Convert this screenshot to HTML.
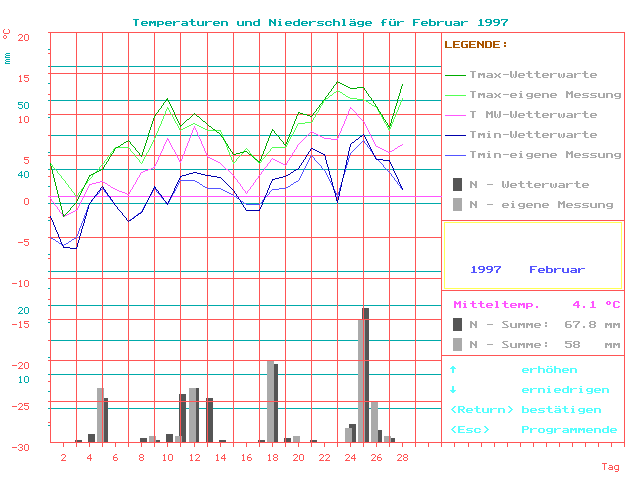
<!DOCTYPE html>
<html lang="de">
<head>
<meta charset="utf-8">
<title>Temperaturen und Niederschläge für Februar 1997</title>
<style>
html,body{margin:0;padding:0;background:#ffffff;overflow:hidden}
svg{display:block;font-family:"Liberation Mono",monospace}
.t{font-family:"Liberation Mono",monospace;font-size:13px;fill:#000;fill-opacity:0}
.u{font-family:"Liberation Mono",monospace;font-size:10px;fill:#000;fill-opacity:0}
</style>
</head>
<body>
<svg width="640" height="480" viewBox="0 0 640 480" shape-rendering="crispEdges">
<rect width="640" height="480" fill="#ffffff"/>
<defs>
<path id="a2d" d="M1 3h6v1h-6z"/>
<path id="a2e" d="M2 5h2v1h-2zM2 6h2v1h-2z"/>
<path id="a31" d="M3 0h2v1h-2zM2 1h3v1h-3zM3 2h2v1h-2zM3 3h2v1h-2zM3 4h2v1h-2zM3 5h2v1h-2zM1 6h6v1h-6z"/>
<path id="a34" d="M3 0h3v1h-3zM2 1h4v1h-4zM1 2h2v1h-2zM4 2h2v1h-2zM0 3h2v1h-2zM4 3h2v1h-2zM0 4h7v1h-7zM4 5h2v1h-2zM4 6h2v1h-2z"/>
<path id="a35" d="M0 0h7v1h-7zM0 1h2v1h-2zM0 2h6v1h-6zM5 3h2v1h-2zM5 4h2v1h-2zM0 5h2v1h-2zM5 5h2v1h-2zM1 6h5v1h-5z"/>
<path id="a36" d="M1 0h5v1h-5zM0 1h2v1h-2zM0 2h2v1h-2zM0 3h6v1h-6zM0 4h2v1h-2zM5 4h2v1h-2zM0 5h2v1h-2zM5 5h2v1h-2zM1 6h5v1h-5z"/>
<path id="a37" d="M0 0h7v1h-7zM0 1h1v1h-1zM5 1h2v1h-2zM4 2h2v1h-2zM3 3h2v1h-2zM2 4h2v1h-2zM2 5h2v1h-2zM2 6h2v1h-2z"/>
<path id="a38" d="M1 0h5v1h-5zM0 1h2v1h-2zM5 1h2v1h-2zM0 2h2v1h-2zM5 2h2v1h-2zM1 3h5v1h-5zM0 4h2v1h-2zM5 4h2v1h-2zM0 5h2v1h-2zM5 5h2v1h-2zM1 6h5v1h-5z"/>
<path id="a39" d="M1 0h5v1h-5zM0 1h2v1h-2zM5 1h2v1h-2zM0 2h2v1h-2zM5 2h2v1h-2zM1 3h6v1h-6zM5 4h2v1h-2zM4 5h2v1h-2zM1 6h4v1h-4z"/>
<path id="a3a" d="M3 1h2v1h-2zM3 2h2v1h-2zM3 4h2v1h-2zM3 5h2v1h-2z"/>
<path id="a3c" d="M4 0h2v1h-2zM3 1h2v1h-2zM2 2h2v1h-2zM1 3h2v1h-2zM2 4h2v1h-2zM3 5h2v1h-2zM4 6h2v1h-2z"/>
<path id="a3e" d="M2 0h2v1h-2zM3 1h2v1h-2zM4 2h2v1h-2zM5 3h2v1h-2zM4 4h2v1h-2zM3 5h2v1h-2zM2 6h2v1h-2z"/>
<path id="a43" d="M1 0h5v1h-5zM0 1h2v1h-2zM5 1h2v1h-2zM0 2h2v1h-2zM0 3h2v1h-2zM0 4h2v1h-2zM0 5h2v1h-2zM5 5h2v1h-2zM1 6h5v1h-5z"/>
<path id="a44" d="M0 0h6v1h-6zM0 1h2v1h-2zM5 1h2v1h-2zM0 2h2v1h-2zM5 2h2v1h-2zM0 3h2v1h-2zM5 3h2v1h-2zM0 4h2v1h-2zM5 4h2v1h-2zM0 5h2v1h-2zM5 5h2v1h-2zM0 6h6v1h-6z"/>
<path id="a45" d="M0 0h7v1h-7zM0 1h2v1h-2zM0 2h2v1h-2zM0 3h6v1h-6zM0 4h2v1h-2zM0 5h2v1h-2zM0 6h7v1h-7z"/>
<path id="a46" d="M0 0h7v1h-7zM0 1h2v1h-2zM0 2h2v1h-2zM0 3h5v1h-5zM0 4h2v1h-2zM0 5h2v1h-2zM0 6h2v1h-2z"/>
<path id="a47" d="M1 0h6v1h-6zM0 1h2v1h-2zM0 2h2v1h-2zM0 3h2v1h-2zM4 3h3v1h-3zM0 4h2v1h-2zM5 4h2v1h-2zM0 5h2v1h-2zM5 5h2v1h-2zM1 6h6v1h-6z"/>
<path id="a4c" d="M0 0h2v1h-2zM0 1h2v1h-2zM0 2h2v1h-2zM0 3h2v1h-2zM0 4h2v1h-2zM0 5h2v1h-2zM0 6h7v1h-7z"/>
<path id="a4d" d="M0 0h2v1h-2zM5 0h2v1h-2zM0 1h3v1h-3zM4 1h3v1h-3zM0 2h7v1h-7zM0 3h2v1h-2zM3 3h1v1h-1zM5 3h2v1h-2zM0 4h2v1h-2zM5 4h2v1h-2zM0 5h2v1h-2zM5 5h2v1h-2zM0 6h2v1h-2zM5 6h2v1h-2z"/>
<path id="a4e" d="M0 0h2v1h-2zM5 0h2v1h-2zM0 1h3v1h-3zM5 1h2v1h-2zM0 2h4v1h-4zM5 2h2v1h-2zM0 3h2v1h-2zM3 3h4v1h-4zM0 4h2v1h-2zM4 4h3v1h-3zM0 5h2v1h-2zM5 5h2v1h-2zM0 6h2v1h-2zM5 6h2v1h-2z"/>
<path id="a50" d="M0 0h6v1h-6zM0 1h2v1h-2zM5 1h2v1h-2zM0 2h2v1h-2zM5 2h2v1h-2zM0 3h6v1h-6zM0 4h2v1h-2zM0 5h2v1h-2zM0 6h2v1h-2z"/>
<path id="a52" d="M0 0h6v1h-6zM0 1h2v1h-2zM5 1h2v1h-2zM0 2h2v1h-2zM5 2h2v1h-2zM0 3h6v1h-6zM0 4h2v1h-2zM3 4h2v1h-2zM0 5h2v1h-2zM4 5h2v1h-2zM0 6h2v1h-2zM5 6h2v1h-2z"/>
<path id="a53" d="M1 0h5v1h-5zM0 1h2v1h-2zM1 2h2v1h-2zM2 3h3v1h-3zM4 4h2v1h-2zM5 5h2v1h-2zM0 6h6v1h-6z"/>
<path id="a54" d="M0 0h6v1h-6zM2 1h2v1h-2zM2 2h2v1h-2zM2 3h2v1h-2zM2 4h2v1h-2zM2 5h2v1h-2zM2 6h2v1h-2z"/>
<path id="a57" d="M0 0h2v1h-2zM5 0h2v1h-2zM0 1h2v1h-2zM5 1h2v1h-2zM0 2h2v1h-2zM5 2h2v1h-2zM0 3h2v1h-2zM3 3h1v1h-1zM5 3h2v1h-2zM0 4h2v1h-2zM3 4h1v1h-1zM5 4h2v1h-2zM0 5h2v1h-2zM3 5h1v1h-1zM5 5h2v1h-2zM1 6h2v1h-2zM4 6h2v1h-2z"/>
<path id="a61" d="M1 2h5v1h-5zM5 3h2v1h-2zM1 4h6v1h-6zM0 5h2v1h-2zM5 5h2v1h-2zM1 6h6v1h-6z"/>
<path id="a62" d="M0 0h2v1h-2zM0 1h2v1h-2zM0 2h6v1h-6zM0 3h2v1h-2zM5 3h2v1h-2zM0 4h2v1h-2zM5 4h2v1h-2zM0 5h2v1h-2zM5 5h2v1h-2zM0 6h6v1h-6z"/>
<path id="a63" d="M1 2h5v1h-5zM0 3h2v1h-2zM5 3h2v1h-2zM0 4h2v1h-2zM0 5h2v1h-2zM5 5h2v1h-2zM1 6h5v1h-5z"/>
<path id="a64" d="M5 0h2v1h-2zM5 1h2v1h-2zM1 2h6v1h-6zM0 3h2v1h-2zM5 3h2v1h-2zM0 4h2v1h-2zM5 4h2v1h-2zM0 5h2v1h-2zM5 5h2v1h-2zM1 6h6v1h-6z"/>
<path id="a65" d="M1 2h5v1h-5zM0 3h2v1h-2zM5 3h2v1h-2zM0 4h7v1h-7zM0 5h2v1h-2zM1 6h5v1h-5z"/>
<path id="a66" d="M2 0h4v1h-4zM1 1h2v1h-2zM1 2h2v1h-2zM0 3h5v1h-5zM1 4h2v1h-2zM1 5h2v1h-2zM1 6h2v1h-2z"/>
<path id="a67" d="M1 2h6v1h-6zM0 3h2v1h-2zM5 3h2v1h-2zM0 4h2v1h-2zM5 4h2v1h-2zM1 5h6v1h-6zM5 6h2v1h-2zM1 7h5v1h-5z"/>
<path id="a68" d="M0 0h2v1h-2zM0 1h2v1h-2zM0 2h6v1h-6zM0 3h2v1h-2zM5 3h2v1h-2zM0 4h2v1h-2zM5 4h2v1h-2zM0 5h2v1h-2zM5 5h2v1h-2zM0 6h2v1h-2zM5 6h2v1h-2z"/>
<path id="a69" d="M2 0h2v1h-2zM1 2h3v1h-3zM2 3h2v1h-2zM2 4h2v1h-2zM2 5h2v1h-2zM1 6h4v1h-4z"/>
<path id="a6c" d="M1 0h3v1h-3zM2 1h2v1h-2zM2 2h2v1h-2zM2 3h2v1h-2zM2 4h2v1h-2zM2 5h2v1h-2zM1 6h4v1h-4z"/>
<path id="a6d" d="M0 2h3v1h-3zM4 2h3v1h-3zM0 3h7v1h-7zM0 4h2v1h-2zM3 4h1v1h-1zM5 4h2v1h-2zM0 5h2v1h-2zM5 5h2v1h-2zM0 6h2v1h-2zM5 6h2v1h-2z"/>
<path id="a6e" d="M0 2h6v1h-6zM0 3h2v1h-2zM5 3h2v1h-2zM0 4h2v1h-2zM5 4h2v1h-2zM0 5h2v1h-2zM5 5h2v1h-2zM0 6h2v1h-2zM5 6h2v1h-2z"/>
<path id="a6f" d="M1 2h5v1h-5zM0 3h2v1h-2zM5 3h2v1h-2zM0 4h2v1h-2zM5 4h2v1h-2zM0 5h2v1h-2zM5 5h2v1h-2zM1 6h5v1h-5z"/>
<path id="a70" d="M0 2h6v1h-6zM0 3h2v1h-2zM5 3h2v1h-2zM0 4h2v1h-2zM5 4h2v1h-2zM0 5h6v1h-6zM0 6h2v1h-2zM0 7h2v1h-2z"/>
<path id="a72" d="M0 2h2v1h-2zM3 2h4v1h-4zM0 3h3v1h-3zM0 4h2v1h-2zM0 5h2v1h-2zM0 6h2v1h-2z"/>
<path id="a73" d="M1 2h6v1h-6zM0 3h2v1h-2zM1 4h5v1h-5zM5 5h2v1h-2zM0 6h6v1h-6z"/>
<path id="a74" d="M2 0h2v1h-2zM2 1h2v1h-2zM0 2h6v1h-6zM2 3h2v1h-2zM2 4h2v1h-2zM2 5h2v1h-2zM3 6h4v1h-4z"/>
<path id="a75" d="M0 2h2v1h-2zM5 2h2v1h-2zM0 3h2v1h-2zM5 3h2v1h-2zM0 4h2v1h-2zM5 4h2v1h-2zM0 5h2v1h-2zM5 5h2v1h-2zM1 6h6v1h-6z"/>
<path id="a77" d="M0 2h2v1h-2zM5 2h2v1h-2zM0 3h2v1h-2zM3 3h1v1h-1zM5 3h2v1h-2zM0 4h2v1h-2zM3 4h1v1h-1zM5 4h2v1h-2zM0 5h2v1h-2zM3 5h1v1h-1zM5 5h2v1h-2zM1 6h2v1h-2zM4 6h2v1h-2z"/>
<path id="a78" d="M0 2h2v1h-2zM5 2h2v1h-2zM1 3h2v1h-2zM4 3h2v1h-2zM2 4h3v1h-3zM1 5h2v1h-2zM4 5h2v1h-2zM0 6h2v1h-2zM5 6h2v1h-2z"/>
<path id="ab0" d="M2 0h3v1h-3zM1 1h2v1h-2zM4 1h2v1h-2zM1 2h2v1h-2zM4 2h2v1h-2zM2 3h3v1h-3z"/>
<path id="ae4" d="M1 0h2v1h-2zM4 0h2v1h-2zM1 2h5v1h-5zM5 3h2v1h-2zM1 4h6v1h-6zM0 5h2v1h-2zM5 5h2v1h-2zM1 6h6v1h-6z"/>
<path id="af6" d="M1 0h2v1h-2zM4 0h2v1h-2zM1 2h5v1h-5zM0 3h2v1h-2zM5 3h2v1h-2zM0 4h2v1h-2zM5 4h2v1h-2zM0 5h2v1h-2zM5 5h2v1h-2zM1 6h5v1h-5z"/>
<path id="afc" d="M1 0h2v1h-2zM4 0h2v1h-2zM0 2h2v1h-2zM5 2h2v1h-2zM0 3h2v1h-2zM5 3h2v1h-2zM0 4h2v1h-2zM5 4h2v1h-2zM0 5h2v1h-2zM5 5h2v1h-2zM1 6h6v1h-6z"/>
<path id="a2191" d="M2 0h2v1h-2zM1 1h4v1h-4zM0 2h6v1h-6zM2 3h2v1h-2zM2 4h2v1h-2zM2 5h2v1h-2zM2 6h2v1h-2z"/>
<path id="a2193" d="M2 0h2v1h-2zM2 1h2v1h-2zM2 2h2v1h-2zM2 3h2v1h-2zM0 4h6v1h-6zM1 5h4v1h-4zM2 6h2v1h-2z"/>
<path id="b2d" d="M0 3h5v1h-5z"/>
<path id="b30" d="M1 0h3v1h-3zM0 1h1v1h-1zM4 1h1v1h-1zM0 2h1v1h-1zM4 2h1v1h-1zM0 3h1v1h-1zM4 3h1v1h-1zM0 4h1v1h-1zM4 4h1v1h-1zM0 5h1v1h-1zM4 5h1v1h-1zM1 6h3v1h-3z"/>
<path id="b31" d="M2 0h1v1h-1zM1 1h2v1h-2zM2 2h1v1h-1zM2 3h1v1h-1zM2 4h1v1h-1zM2 5h1v1h-1zM1 6h3v1h-3z"/>
<path id="b32" d="M1 0h3v1h-3zM0 1h1v1h-1zM4 1h1v1h-1zM4 2h1v1h-1zM3 3h1v1h-1zM2 4h1v1h-1zM1 5h1v1h-1zM0 6h5v1h-5z"/>
<path id="b33" d="M1 0h3v1h-3zM0 1h1v1h-1zM4 1h1v1h-1zM4 2h1v1h-1zM2 3h2v1h-2zM4 4h1v1h-1zM0 5h1v1h-1zM4 5h1v1h-1zM1 6h3v1h-3z"/>
<path id="b34" d="M3 0h1v1h-1zM2 1h2v1h-2zM1 2h1v1h-1zM3 2h1v1h-1zM0 3h1v1h-1zM3 3h1v1h-1zM0 4h5v1h-5zM3 5h1v1h-1zM3 6h1v1h-1z"/>
<path id="b35" d="M0 0h5v1h-5zM0 1h1v1h-1zM0 2h4v1h-4zM4 3h1v1h-1zM4 4h1v1h-1zM0 5h1v1h-1zM4 5h1v1h-1zM1 6h3v1h-3z"/>
<path id="b36" d="M2 0h2v1h-2zM1 1h1v1h-1zM0 2h1v1h-1zM0 3h4v1h-4zM0 4h1v1h-1zM4 4h1v1h-1zM0 5h1v1h-1zM4 5h1v1h-1zM1 6h3v1h-3z"/>
<path id="b38" d="M1 0h3v1h-3zM0 1h1v1h-1zM4 1h1v1h-1zM0 2h1v1h-1zM4 2h1v1h-1zM1 3h3v1h-3zM0 4h1v1h-1zM4 4h1v1h-1zM0 5h1v1h-1zM4 5h1v1h-1zM1 6h3v1h-3z"/>
<path id="b54" d="M0 0h5v1h-5zM2 1h1v1h-1zM2 2h1v1h-1zM2 3h1v1h-1zM2 4h1v1h-1zM2 5h1v1h-1zM2 6h1v1h-1z"/>
<path id="b61" d="M1 2h3v1h-3zM4 3h1v1h-1zM1 4h4v1h-4zM0 5h1v1h-1zM4 5h1v1h-1zM1 6h4v1h-4z"/>
<path id="b67" d="M1 2h4v1h-4zM0 3h1v1h-1zM4 3h1v1h-1zM0 4h1v1h-1zM4 4h1v1h-1zM0 5h1v1h-1zM4 5h1v1h-1zM1 6h4v1h-4zM4 7h1v1h-1zM1 8h3v1h-3z"/>
</defs>
<g id="mm-grid">
<rect x="48" y="408" width="394" height="1" fill="#00aaaa"/>
<rect x="48" y="374" width="394" height="1" fill="#00aaaa"/>
<rect x="48" y="340" width="394" height="1" fill="#00aaaa"/>
<rect x="48" y="305" width="394" height="1" fill="#00aaaa"/>
<rect x="48" y="271" width="394" height="1" fill="#00aaaa"/>
<rect x="48" y="237" width="394" height="1" fill="#00aaaa"/>
<rect x="48" y="203" width="394" height="1" fill="#00aaaa"/>
<rect x="48" y="169" width="394" height="1" fill="#00aaaa"/>
<rect x="48" y="135" width="394" height="1" fill="#00aaaa"/>
<rect x="48" y="100" width="394" height="1" fill="#00aaaa"/>
<rect x="48" y="66" width="394" height="1" fill="#00aaaa"/>
<rect x="48" y="425" width="2" height="1" fill="#00aaaa"/>
<rect x="48" y="391" width="2" height="1" fill="#00aaaa"/>
<rect x="48" y="357" width="2" height="1" fill="#00aaaa"/>
<rect x="48" y="322" width="2" height="1" fill="#00aaaa"/>
<rect x="48" y="288" width="2" height="1" fill="#00aaaa"/>
<rect x="48" y="254" width="2" height="1" fill="#00aaaa"/>
<rect x="48" y="220" width="2" height="1" fill="#00aaaa"/>
<rect x="48" y="186" width="2" height="1" fill="#00aaaa"/>
<rect x="48" y="152" width="2" height="1" fill="#00aaaa"/>
<rect x="48" y="117" width="2" height="1" fill="#00aaaa"/>
<rect x="48" y="83" width="2" height="1" fill="#00aaaa"/>
<rect x="48" y="49" width="2" height="1" fill="#00aaaa"/>
</g>
<g id="bars">
<rect x="75" y="440" width="7" height="2" fill="#555555"/>
<rect x="88" y="434" width="7" height="8" fill="#555555"/>
<rect x="101" y="398" width="7" height="44" fill="#555555"/>
<rect x="140" y="438" width="7" height="4" fill="#555555"/>
<rect x="153" y="440" width="7" height="2" fill="#555555"/>
<rect x="166" y="434" width="7" height="8" fill="#555555"/>
<rect x="179" y="394" width="7" height="48" fill="#555555"/>
<rect x="192" y="388" width="7" height="54" fill="#555555"/>
<rect x="206" y="398" width="7" height="44" fill="#555555"/>
<rect x="219" y="440" width="7" height="2" fill="#555555"/>
<rect x="258" y="440" width="7" height="2" fill="#555555"/>
<rect x="271" y="364" width="7" height="78" fill="#555555"/>
<rect x="284" y="438" width="7" height="4" fill="#555555"/>
<rect x="310" y="440" width="7" height="2" fill="#555555"/>
<rect x="349" y="424" width="7" height="18" fill="#555555"/>
<rect x="362" y="308" width="7" height="134" fill="#555555"/>
<rect x="375" y="430" width="7" height="12" fill="#555555"/>
<rect x="388" y="438" width="7" height="4" fill="#555555"/>
<rect x="97" y="388" width="7" height="54" fill="#aaaaaa"/>
<rect x="149" y="436" width="7" height="6" fill="#aaaaaa"/>
<rect x="175" y="436" width="7" height="6" fill="#aaaaaa"/>
<rect x="189" y="388" width="7" height="54" fill="#aaaaaa"/>
<rect x="267" y="361" width="7" height="81" fill="#aaaaaa"/>
<rect x="293" y="436" width="7" height="6" fill="#aaaaaa"/>
<rect x="345" y="428" width="7" height="14" fill="#aaaaaa"/>
<rect x="358" y="320" width="7" height="122" fill="#aaaaaa"/>
<rect x="371" y="402" width="7" height="40" fill="#aaaaaa"/>
<rect x="384" y="436" width="7" height="6" fill="#aaaaaa"/>
</g>
<g id="grid">
<rect x="48" y="32" width="394" height="1" fill="#ff5555"/>
<rect x="48" y="73" width="394" height="1" fill="#ff5555"/>
<rect x="48" y="114" width="394" height="1" fill="#ff5555"/>
<rect x="48" y="155" width="394" height="1" fill="#ff5555"/>
<rect x="48" y="237" width="394" height="1" fill="#ff5555"/>
<rect x="48" y="278" width="394" height="1" fill="#ff5555"/>
<rect x="48" y="319" width="394" height="1" fill="#ff5555"/>
<rect x="48" y="360" width="394" height="1" fill="#ff5555"/>
<rect x="48" y="401" width="394" height="1" fill="#ff5555"/>
<rect x="50" y="442" width="392" height="1" fill="#ff5555"/>
<rect x="48" y="32" width="2" height="1" fill="#ff5555"/>
<rect x="48" y="53" width="2" height="1" fill="#ff5555"/>
<rect x="48" y="73" width="2" height="1" fill="#ff5555"/>
<rect x="48" y="94" width="2" height="1" fill="#ff5555"/>
<rect x="48" y="114" width="2" height="1" fill="#ff5555"/>
<rect x="48" y="135" width="2" height="1" fill="#ff5555"/>
<rect x="48" y="155" width="2" height="1" fill="#ff5555"/>
<rect x="48" y="176" width="2" height="1" fill="#ff5555"/>
<rect x="48" y="217" width="2" height="1" fill="#ff5555"/>
<rect x="48" y="237" width="2" height="1" fill="#ff5555"/>
<rect x="48" y="258" width="2" height="1" fill="#ff5555"/>
<rect x="48" y="278" width="2" height="1" fill="#ff5555"/>
<rect x="48" y="299" width="2" height="1" fill="#ff5555"/>
<rect x="48" y="319" width="2" height="1" fill="#ff5555"/>
<rect x="48" y="340" width="2" height="1" fill="#ff5555"/>
<rect x="48" y="360" width="2" height="1" fill="#ff5555"/>
<rect x="48" y="381" width="2" height="1" fill="#ff5555"/>
<rect x="48" y="401" width="2" height="1" fill="#ff5555"/>
<rect x="48" y="422" width="2" height="1" fill="#ff5555"/>
<rect x="50" y="32" width="1" height="411" fill="#ff5555"/>
<rect x="76" y="32" width="1" height="415" fill="#ff5555"/>
<rect x="102" y="32" width="1" height="415" fill="#ff5555"/>
<rect x="128" y="32" width="1" height="415" fill="#ff5555"/>
<rect x="154" y="32" width="1" height="415" fill="#ff5555"/>
<rect x="180" y="32" width="1" height="415" fill="#ff5555"/>
<rect x="207" y="32" width="1" height="415" fill="#ff5555"/>
<rect x="233" y="32" width="1" height="415" fill="#ff5555"/>
<rect x="259" y="32" width="1" height="415" fill="#ff5555"/>
<rect x="285" y="32" width="1" height="415" fill="#ff5555"/>
<rect x="311" y="32" width="1" height="415" fill="#ff5555"/>
<rect x="337" y="32" width="1" height="415" fill="#ff5555"/>
<rect x="363" y="32" width="1" height="415" fill="#ff5555"/>
<rect x="389" y="32" width="1" height="415" fill="#ff5555"/>
<rect x="415" y="32" width="1" height="415" fill="#ff5555"/>
<rect x="441" y="32" width="1" height="415" fill="#ff5555"/>
<rect x="50" y="442" width="575" height="1" fill="#ff5555"/>
<rect x="63" y="442" width="1" height="5" fill="#ff5555"/>
<rect x="76" y="442" width="1" height="5" fill="#ff5555"/>
<rect x="89" y="442" width="1" height="5" fill="#ff5555"/>
<rect x="102" y="442" width="1" height="5" fill="#ff5555"/>
<rect x="115" y="442" width="1" height="5" fill="#ff5555"/>
<rect x="128" y="442" width="1" height="5" fill="#ff5555"/>
<rect x="141" y="442" width="1" height="5" fill="#ff5555"/>
<rect x="154" y="442" width="1" height="5" fill="#ff5555"/>
<rect x="167" y="442" width="1" height="5" fill="#ff5555"/>
<rect x="180" y="442" width="1" height="5" fill="#ff5555"/>
<rect x="194" y="442" width="1" height="5" fill="#ff5555"/>
<rect x="207" y="442" width="1" height="5" fill="#ff5555"/>
<rect x="220" y="442" width="1" height="5" fill="#ff5555"/>
<rect x="233" y="442" width="1" height="5" fill="#ff5555"/>
<rect x="246" y="442" width="1" height="5" fill="#ff5555"/>
<rect x="259" y="442" width="1" height="5" fill="#ff5555"/>
<rect x="272" y="442" width="1" height="5" fill="#ff5555"/>
<rect x="285" y="442" width="1" height="5" fill="#ff5555"/>
<rect x="298" y="442" width="1" height="5" fill="#ff5555"/>
<rect x="311" y="442" width="1" height="5" fill="#ff5555"/>
<rect x="324" y="442" width="1" height="5" fill="#ff5555"/>
<rect x="337" y="442" width="1" height="5" fill="#ff5555"/>
<rect x="350" y="442" width="1" height="5" fill="#ff5555"/>
<rect x="363" y="442" width="1" height="5" fill="#ff5555"/>
<rect x="376" y="442" width="1" height="5" fill="#ff5555"/>
<rect x="389" y="442" width="1" height="5" fill="#ff5555"/>
<rect x="402" y="442" width="1" height="5" fill="#ff5555"/>
<rect x="415" y="442" width="1" height="5" fill="#ff5555"/>
<rect x="428" y="442" width="1" height="5" fill="#ff5555"/>
<rect x="441" y="442" width="1" height="5" fill="#ff5555"/>
<rect x="454" y="442" width="1" height="5" fill="#ff5555"/>
<rect x="468" y="442" width="1" height="5" fill="#ff5555"/>
<rect x="481" y="442" width="1" height="5" fill="#ff5555"/>
<rect x="494" y="442" width="1" height="5" fill="#ff5555"/>
<rect x="507" y="442" width="1" height="5" fill="#ff5555"/>
<rect x="520" y="442" width="1" height="5" fill="#ff5555"/>
<rect x="533" y="442" width="1" height="5" fill="#ff5555"/>
<rect x="546" y="442" width="1" height="5" fill="#ff5555"/>
<rect x="559" y="442" width="1" height="5" fill="#ff5555"/>
<rect x="572" y="442" width="1" height="5" fill="#ff5555"/>
<rect x="585" y="442" width="1" height="5" fill="#ff5555"/>
<rect x="598" y="442" width="1" height="5" fill="#ff5555"/>
<rect x="611" y="442" width="1" height="5" fill="#ff5555"/>
<rect x="624" y="442" width="1" height="5" fill="#ff5555"/>
</g>
<g id="panel">
<rect x="441" y="32" width="184" height="1" fill="#ff5555"/>
<rect x="624" y="32" width="1" height="411" fill="#ff5555"/>
<rect x="441" y="32" width="1" height="411" fill="#ff5555"/>
<rect x="441" y="220" width="184" height="1" fill="#ff5555"/>
<rect x="441" y="290" width="184" height="1" fill="#ff5555"/>
<rect x="441" y="355" width="184" height="1" fill="#ff5555"/>
<rect x="444.5" y="222.5" width="177" height="66" fill="none" stroke="#ffff55" stroke-width="1"/>
</g>
<rect x="48" y="196" width="394" height="1" fill="#ff55ff"/>
<g id="curves">
<path fill="#ff55ff" d="M50 198h1v1h-1zM51 199h1v2h-1zM52 201h1v1h-1zM53 202h1v1h-1zM54 203h1v2h-1zM55 205h1v1h-1zM56 206h1v1h-1zM57 207h1v2h-1zM58 209h1v1h-1zM59 210h1v2h-1zM60 212h1v1h-1zM61 213h1v1h-1zM62 214h1v2h-1zM63 216h2v1h-2zM65 215h2v1h-2zM67 214h2v1h-2zM69 213h2v1h-2zM71 212h2v1h-2zM73 211h2v1h-2zM75 210h2v1h-2zM77 208h1v2h-1zM78 206h1v2h-1zM79 204h1v2h-1zM80 202h1v2h-1zM81 200h1v2h-1zM82 198h1v2h-1zM83 196h1v2h-1zM84 194h1v2h-1zM85 192h1v2h-1zM86 190h1v2h-1zM87 188h1v2h-1zM88 186h1v2h-1zM89 184h3v1h-3zM89 185h1v1h-1zM92 183h4v1h-4zM96 182h4v1h-4zM100 181h3v1h-3zM103 182h2v1h-2zM105 183h2v1h-2zM107 184h1v1h-1zM108 185h2v1h-2zM110 186h1v1h-1zM111 187h2v1h-2zM113 188h2v1h-2zM115 189h2v1h-2zM117 190h2v1h-2zM119 191h3v1h-3zM122 192h3v1h-3zM125 193h2v1h-2zM127 194h2v1h-2zM129 192h1v2h-1zM130 190h1v2h-1zM131 189h1v1h-1zM132 187h1v2h-1zM133 185h1v2h-1zM134 184h1v1h-1zM135 182h1v2h-1zM136 180h1v2h-1zM137 178h1v2h-1zM138 177h1v1h-1zM139 175h1v2h-1zM140 173h1v2h-1zM141 172h2v1h-2zM143 171h2v1h-2zM145 170h3v1h-3zM148 169h3v1h-3zM151 168h2v1h-2zM153 167h2v1h-2zM154 166h1v1h-1zM155 164h1v2h-1zM156 162h1v2h-1zM157 160h1v2h-1zM158 157h1v3h-1zM159 155h1v2h-1zM160 153h1v2h-1zM161 151h1v2h-1zM162 149h1v2h-1zM163 146h1v3h-1zM164 144h1v2h-1zM165 142h1v2h-1zM166 140h1v2h-1zM167 138h1v2h-1zM168 139h1v2h-1zM169 141h1v2h-1zM170 143h1v2h-1zM171 145h1v2h-1zM172 147h1v2h-1zM173 149h1v1h-1zM174 150h1v2h-1zM175 152h1v2h-1zM176 154h1v2h-1zM177 156h1v2h-1zM178 158h1v2h-1zM179 160h1v2h-1zM180 161h1v2h-1zM181 159h1v2h-1zM182 156h1v3h-1zM183 154h1v2h-1zM184 151h1v3h-1zM185 148h1v3h-1zM186 146h1v2h-1zM187 143h1v3h-1zM188 141h1v2h-1zM189 138h1v3h-1zM190 136h1v2h-1zM191 133h1v3h-1zM192 130h1v3h-1zM193 128h1v2h-1zM194 126h1v2h-1zM195 128h1v2h-1zM196 130h1v2h-1zM197 132h1v3h-1zM198 135h1v2h-1zM199 137h1v2h-1zM200 139h1v2h-1zM201 141h1v3h-1zM202 144h1v2h-1zM203 146h1v2h-1zM204 148h1v3h-1zM205 151h1v2h-1zM206 153h1v2h-1zM207 155h1v2h-1zM208 157h2v1h-2zM210 158h2v1h-2zM212 159h2v1h-2zM214 160h2v1h-2zM216 161h2v1h-2zM218 162h2v1h-2zM220 163h1v1h-1zM221 164h1v1h-1zM222 165h1v1h-1zM223 166h1v1h-1zM224 167h1v1h-1zM225 168h1v1h-1zM226 169h2v1h-2zM228 170h1v1h-1zM229 171h1v1h-1zM230 172h1v1h-1zM231 173h1v1h-1zM232 174h1v1h-1zM233 175h1v1h-1zM234 176h1v2h-1zM235 178h1v1h-1zM236 179h1v1h-1zM237 180h1v2h-1zM238 182h1v1h-1zM239 183h1v1h-1zM240 184h1v2h-1zM241 186h1v1h-1zM242 187h1v2h-1zM243 189h1v1h-1zM244 190h1v1h-1zM245 191h1v2h-1zM246 193h1v1h-1zM247 191h1v2h-1zM248 190h1v1h-1zM249 189h1v1h-1zM250 187h1v2h-1zM251 186h1v1h-1zM252 185h1v1h-1zM253 183h1v2h-1zM254 182h1v1h-1zM255 180h1v2h-1zM256 179h1v1h-1zM257 178h1v1h-1zM258 176h1v2h-1zM259 175h1v1h-1zM260 174h1v1h-1zM261 172h1v2h-1zM262 171h1v1h-1zM263 170h1v1h-1zM264 168h1v2h-1zM265 167h1v1h-1zM266 166h1v1h-1zM267 164h1v2h-1zM268 163h1v1h-1zM269 162h1v1h-1zM270 160h1v2h-1zM271 159h1v1h-1zM272 158h1v1h-1zM273 159h2v1h-2zM275 160h2v1h-2zM277 161h2v1h-2zM279 162h2v1h-2zM281 163h2v1h-2zM283 164h2v1h-2zM285 165h1v1h-1zM286 163h1v2h-1zM287 161h1v2h-1zM288 160h1v1h-1zM289 158h1v2h-1zM290 157h1v1h-1zM291 155h1v2h-1zM292 153h1v2h-1zM293 152h1v1h-1zM294 150h1v2h-1zM295 149h1v1h-1zM296 147h1v2h-1zM297 145h1v2h-1zM298 144h1v1h-1zM299 143h1v1h-1zM300 142h1v1h-1zM301 141h1v1h-1zM302 140h1v1h-1zM303 139h1v1h-1zM304 138h1v1h-1zM305 137h1v1h-1zM306 136h1v1h-1zM307 135h1v1h-1zM308 134h1v1h-1zM309 133h1v1h-1zM310 132h1v1h-1zM311 131h1v1h-1zM312 132h2v1h-2zM314 133h2v1h-2zM316 134h2v1h-2zM318 135h2v1h-2zM320 136h2v1h-2zM322 137h2v1h-2zM324 138h7v1h-7zM331 139h7v1h-7zM337 138h1v1h-1zM338 136h1v2h-1zM339 133h1v3h-1zM340 131h1v2h-1zM341 128h1v3h-1zM342 126h1v2h-1zM343 124h1v2h-1zM344 121h1v3h-1zM345 119h1v2h-1zM346 116h1v3h-1zM347 114h1v2h-1zM348 111h1v3h-1zM349 109h1v2h-1zM350 107h1v2h-1zM351 108h1v1h-1zM352 109h1v1h-1zM353 110h1v1h-1zM354 111h1v1h-1zM355 112h1v1h-1zM356 113h1v1h-1zM357 114h1v2h-1zM358 116h1v1h-1zM359 117h1v1h-1zM360 118h1v1h-1zM361 119h1v1h-1zM362 120h1v1h-1zM363 121h1v1h-1zM364 122h1v2h-1zM365 124h1v2h-1zM366 126h1v2h-1zM367 128h1v2h-1zM368 130h1v2h-1zM369 132h1v2h-1zM370 134h1v2h-1zM371 136h1v2h-1zM372 138h1v2h-1zM373 140h1v2h-1zM374 142h1v2h-1zM375 144h1v2h-1zM376 146h2v1h-2zM378 147h2v1h-2zM380 148h2v1h-2zM382 149h2v1h-2zM384 150h2v1h-2zM386 151h2v1h-2zM388 152h2v1h-2zM390 151h2v1h-2zM392 150h2v1h-2zM394 149h1v1h-1zM395 148h2v1h-2zM397 147h1v1h-1zM398 146h2v1h-2zM400 145h2v1h-2zM402 144h1v1h-1z"/>
<path fill="#55ff55" d="M50 163h1v1h-1zM51 164h1v1h-1zM52 165h1v2h-1zM53 167h1v1h-1zM54 168h1v1h-1zM55 169h1v1h-1zM56 170h1v1h-1zM57 171h1v2h-1zM58 173h1v1h-1zM59 174h1v1h-1zM60 175h1v1h-1zM61 176h1v2h-1zM62 178h1v1h-1zM63 179h1v1h-1zM64 180h1v1h-1zM65 181h1v2h-1zM66 183h1v1h-1zM67 184h1v1h-1zM68 185h1v2h-1zM69 187h1v1h-1zM70 188h1v1h-1zM71 189h1v2h-1zM72 191h1v1h-1zM73 192h1v1h-1zM74 193h1v2h-1zM75 195h1v1h-1zM76 196h1v1h-1zM77 195h1v1h-1zM78 193h1v2h-1zM79 192h1v1h-1zM80 191h1v1h-1zM81 189h1v2h-1zM82 188h1v1h-1zM83 187h1v1h-1zM84 185h1v2h-1zM85 184h1v1h-1zM86 183h1v1h-1zM87 181h1v2h-1zM88 180h1v1h-1zM89 179h1v1h-1zM90 178h1v1h-1zM91 177h1v1h-1zM92 175h1v2h-1zM93 174h1v1h-1zM94 173h1v1h-1zM95 172h1v1h-1zM96 171h1v1h-1zM97 170h1v1h-1zM98 169h1v1h-1zM99 167h1v2h-1zM100 166h1v1h-1zM101 165h1v1h-1zM102 164h1v1h-1zM103 163h1v1h-1zM104 161h1v2h-1zM105 160h1v1h-1zM106 159h1v1h-1zM107 157h1v2h-1zM108 156h1v1h-1zM109 155h1v1h-1zM110 153h1v2h-1zM111 152h1v1h-1zM112 151h1v1h-1zM113 149h1v2h-1zM114 148h1v1h-1zM115 147h14v1h-14zM129 148h1v1h-1zM130 149h1v2h-1zM131 151h1v1h-1zM132 152h1v1h-1zM133 153h1v1h-1zM134 154h1v1h-1zM135 155h1v2h-1zM136 157h1v1h-1zM137 158h1v1h-1zM138 159h1v1h-1zM139 160h1v2h-1zM140 162h1v1h-1zM141 163h1v1h-1zM142 161h1v2h-1zM143 159h1v2h-1zM144 157h1v2h-1zM145 155h1v2h-1zM146 153h1v2h-1zM147 152h1v1h-1zM148 150h1v2h-1zM149 148h1v2h-1zM150 146h1v2h-1zM151 144h1v2h-1zM152 142h1v2h-1zM153 140h1v2h-1zM154 138h1v2h-1zM155 136h1v2h-1zM156 133h1v3h-1zM157 131h1v2h-1zM158 128h1v3h-1zM159 126h1v2h-1zM160 124h1v2h-1zM161 121h1v3h-1zM162 119h1v2h-1zM163 116h1v3h-1zM164 114h1v2h-1zM165 111h1v3h-1zM166 109h1v2h-1zM167 107h1v2h-1zM168 108h1v2h-1zM169 110h1v2h-1zM170 112h1v2h-1zM171 114h1v1h-1zM172 115h1v2h-1zM173 117h1v2h-1zM174 119h1v2h-1zM175 121h1v2h-1zM176 123h1v1h-1zM177 124h1v2h-1zM178 126h1v2h-1zM179 128h1v2h-1zM180 130h1v1h-1zM181 129h2v1h-2zM183 128h2v1h-2zM185 127h2v1h-2zM187 126h2v1h-2zM189 125h2v1h-2zM191 124h2v1h-2zM193 123h2v1h-2zM195 124h2v1h-2zM197 125h2v1h-2zM199 126h2v1h-2zM201 127h2v1h-2zM203 128h2v1h-2zM205 129h2v1h-2zM207 130h14v1h-14zM220 131h1v1h-1zM221 132h1v2h-1zM222 134h1v3h-1zM223 137h1v2h-1zM224 139h1v3h-1zM225 142h1v2h-1zM226 144h1v3h-1zM227 147h1v3h-1zM228 150h1v2h-1zM229 152h1v3h-1zM230 155h1v2h-1zM231 157h1v3h-1zM232 160h1v2h-1zM233 162h2v1h-2zM233 163h1v1h-1zM235 161h1v1h-1zM236 159h1v2h-1zM237 158h1v1h-1zM238 157h1v1h-1zM239 156h1v1h-1zM240 155h1v1h-1zM241 154h1v1h-1zM242 153h1v1h-1zM243 151h1v2h-1zM244 150h1v1h-1zM245 149h1v1h-1zM246 148h1v1h-1zM247 149h1v1h-1zM248 150h1v1h-1zM249 151h1v2h-1zM250 153h1v1h-1zM251 154h1v1h-1zM252 155h1v1h-1zM253 156h1v1h-1zM254 157h1v1h-1zM255 158h1v1h-1zM256 159h1v2h-1zM257 161h1v1h-1zM258 162h1v1h-1zM259 163h1v1h-1zM260 162h1v1h-1zM261 160h1v2h-1zM262 159h1v1h-1zM263 158h1v1h-1zM264 157h1v1h-1zM265 156h1v1h-1zM266 154h1v2h-1zM267 153h1v1h-1zM268 152h1v1h-1zM269 151h1v1h-1zM270 149h1v2h-1zM271 148h1v1h-1zM272 147h14v1h-14zM286 145h1v2h-1zM287 143h1v2h-1zM288 141h1v2h-1zM289 139h1v2h-1zM290 137h1v2h-1zM291 136h1v1h-1zM292 134h1v2h-1zM293 132h1v2h-1zM294 130h1v2h-1zM295 128h1v2h-1zM296 126h1v2h-1zM297 124h1v2h-1zM298 123h7v1h-7zM305 122h7v1h-7zM312 120h1v2h-1zM313 118h1v2h-1zM314 117h1v1h-1zM315 115h1v2h-1zM316 113h1v2h-1zM317 112h1v1h-1zM318 110h1v2h-1zM319 108h1v2h-1zM320 106h1v2h-1zM321 105h1v1h-1zM322 103h1v2h-1zM323 101h1v2h-1zM324 100h1v1h-1zM325 99h1v1h-1zM326 98h2v1h-2zM328 97h1v1h-1zM329 96h1v1h-1zM330 95h2v1h-2zM332 94h1v1h-1zM333 93h1v1h-1zM334 92h2v1h-2zM336 91h1v1h-1zM337 90h1v1h-1zM338 91h2v1h-2zM340 92h2v1h-2zM342 93h1v1h-1zM343 94h2v1h-2zM345 95h1v1h-1zM346 96h2v1h-2zM348 97h2v1h-2zM350 98h7v1h-7zM357 99h7v1h-7zM364 100h2v1h-2zM366 101h2v1h-2zM368 102h1v1h-1zM369 103h2v1h-2zM371 104h1v1h-1zM372 105h2v1h-2zM374 106h2v1h-2zM376 107h1v1h-1zM377 108h1v2h-1zM378 110h1v2h-1zM379 112h1v2h-1zM380 114h1v1h-1zM381 115h1v2h-1zM382 117h1v2h-1zM383 119h1v2h-1zM384 121h1v2h-1zM385 123h1v1h-1zM386 124h1v2h-1zM387 126h1v2h-1zM388 128h1v2h-1zM389 129h1v2h-1zM390 127h1v2h-1zM391 124h1v3h-1zM392 122h1v2h-1zM393 119h1v3h-1zM394 117h1v2h-1zM395 115h1v2h-1zM396 112h1v3h-1zM397 110h1v2h-1zM398 107h1v3h-1zM399 105h1v2h-1zM400 102h1v3h-1zM401 100h1v2h-1zM402 98h1v2h-1z"/>
<path fill="#00aa00" d="M50 163h1v3h-1zM51 166h1v4h-1zM52 170h1v4h-1zM53 174h1v4h-1zM54 178h1v4h-1zM55 182h1v4h-1zM56 186h1v4h-1zM57 190h1v4h-1zM58 194h1v4h-1zM59 198h1v4h-1zM60 202h1v4h-1zM61 206h1v4h-1zM62 210h1v4h-1zM63 214h1v3h-1zM64 215h1v1h-1zM65 214h1v1h-1zM66 213h1v1h-1zM67 212h1v1h-1zM68 211h1v1h-1zM69 210h1v1h-1zM70 208h1v2h-1zM71 207h1v1h-1zM72 206h1v1h-1zM73 205h1v1h-1zM74 204h1v1h-1zM75 203h1v1h-1zM76 201h1v2h-1zM77 199h1v2h-1zM78 197h1v2h-1zM79 195h1v2h-1zM80 193h1v2h-1zM81 191h1v2h-1zM82 189h1v2h-1zM83 187h1v2h-1zM84 185h1v2h-1zM85 183h1v2h-1zM86 181h1v2h-1zM87 179h1v2h-1zM88 177h1v2h-1zM89 175h2v1h-2zM89 176h1v1h-1zM91 174h2v1h-2zM93 173h2v1h-2zM95 172h2v1h-2zM97 171h2v1h-2zM99 170h2v1h-2zM101 169h2v1h-2zM103 167h1v2h-1zM104 165h1v2h-1zM105 164h1v1h-1zM106 162h1v2h-1zM107 161h1v1h-1zM108 159h1v2h-1zM109 157h1v2h-1zM110 156h1v1h-1zM111 154h1v2h-1zM112 153h1v1h-1zM113 151h1v2h-1zM114 149h1v2h-1zM115 148h1v1h-1zM116 147h2v1h-2zM118 146h2v1h-2zM120 145h1v1h-1zM121 144h2v1h-2zM123 143h1v1h-1zM124 142h2v1h-2zM126 141h2v1h-2zM128 140h1v1h-1zM129 141h1v1h-1zM130 142h1v2h-1zM131 144h1v1h-1zM132 145h1v1h-1zM133 146h1v1h-1zM134 147h1v1h-1zM135 148h1v2h-1zM136 150h1v1h-1zM137 151h1v1h-1zM138 152h1v1h-1zM139 153h1v2h-1zM140 155h2v1h-2zM141 156h1v1h-1zM142 152h1v3h-1zM143 149h1v3h-1zM144 146h1v3h-1zM145 143h1v3h-1zM146 140h1v3h-1zM147 137h1v3h-1zM148 133h1v4h-1zM149 130h1v3h-1zM150 127h1v3h-1zM151 124h1v3h-1zM152 121h1v3h-1zM153 118h1v3h-1zM154 116h1v2h-1zM155 114h1v2h-1zM156 113h1v1h-1zM157 112h1v1h-1zM158 110h1v2h-1zM159 109h1v1h-1zM160 108h1v1h-1zM161 106h1v2h-1zM162 105h1v1h-1zM163 103h1v2h-1zM164 102h1v1h-1zM165 101h1v1h-1zM166 99h2v1h-2zM166 100h1v1h-1zM167 98h1v1h-1zM168 100h1v2h-1zM169 102h1v2h-1zM170 104h1v2h-1zM171 106h1v2h-1zM172 108h1v2h-1zM173 110h1v2h-1zM174 112h1v3h-1zM175 115h1v2h-1zM176 117h1v2h-1zM177 119h1v2h-1zM178 121h1v2h-1zM179 123h1v2h-1zM180 125h2v1h-2zM180 126h1v1h-1zM182 124h1v1h-1zM183 123h1v1h-1zM184 122h1v1h-1zM185 121h1v1h-1zM186 120h1v1h-1zM187 119h2v1h-2zM189 118h1v1h-1zM190 117h1v1h-1zM191 116h1v1h-1zM192 115h1v1h-1zM193 114h1v1h-1zM194 113h1v1h-1zM195 114h1v1h-1zM196 115h1v1h-1zM197 116h2v1h-2zM199 117h1v1h-1zM200 118h1v1h-1zM201 119h1v1h-1zM202 120h1v1h-1zM203 121h2v1h-2zM205 122h1v1h-1zM206 123h1v1h-1zM207 124h1v1h-1zM208 125h1v1h-1zM209 126h2v1h-2zM211 127h1v1h-1zM212 128h1v1h-1zM213 129h2v1h-2zM215 130h1v1h-1zM216 131h1v1h-1zM217 132h2v1h-2zM219 133h1v1h-1zM220 134h1v1h-1zM221 135h1v2h-1zM222 137h1v1h-1zM223 138h1v2h-1zM224 140h1v1h-1zM225 141h1v2h-1zM226 143h1v1h-1zM227 144h1v2h-1zM228 146h1v2h-1zM229 148h1v1h-1zM230 149h1v2h-1zM231 151h1v1h-1zM232 152h1v2h-1zM233 154h3v1h-3zM236 153h4v1h-4zM240 152h4v1h-4zM244 151h3v1h-3zM247 152h1v1h-1zM248 153h1v1h-1zM249 154h2v1h-2zM251 155h1v1h-1zM252 156h1v1h-1zM253 157h1v1h-1zM254 158h1v1h-1zM255 159h2v1h-2zM257 160h1v1h-1zM258 161h2v1h-2zM259 162h1v1h-1zM260 159h1v2h-1zM261 156h1v3h-1zM262 154h1v2h-1zM263 151h1v3h-1zM264 149h1v2h-1zM265 146h1v3h-1zM266 143h1v3h-1zM267 141h1v2h-1zM268 138h1v3h-1zM269 136h1v2h-1zM270 133h1v3h-1zM271 131h1v2h-1zM272 129h1v2h-1zM273 130h1v1h-1zM274 131h1v2h-1zM275 133h1v1h-1zM276 134h1v1h-1zM277 135h1v1h-1zM278 136h1v1h-1zM279 137h1v2h-1zM280 139h1v1h-1zM281 140h1v1h-1zM282 141h1v1h-1zM283 142h1v2h-1zM284 144h2v1h-2zM285 145h1v1h-1zM286 142h1v2h-1zM287 139h1v3h-1zM288 137h1v2h-1zM289 134h1v3h-1zM290 132h1v2h-1zM291 129h1v3h-1zM292 126h1v3h-1zM293 124h1v2h-1zM294 121h1v3h-1zM295 119h1v2h-1zM296 116h1v3h-1zM297 114h1v2h-1zM298 112h2v1h-2zM298 113h1v1h-1zM300 113h3v1h-3zM303 114h4v1h-4zM307 115h3v1h-3zM310 116h2v1h-2zM312 115h1v1h-1zM313 113h1v2h-1zM314 112h1v1h-1zM315 111h1v1h-1zM316 109h1v2h-1zM317 108h1v1h-1zM318 107h1v1h-1zM319 105h1v2h-1zM320 104h1v1h-1zM321 103h1v1h-1zM322 101h1v2h-1zM323 100h1v1h-1zM324 99h1v1h-1zM325 97h1v2h-1zM326 96h1v1h-1zM327 95h1v1h-1zM328 93h1v2h-1zM329 92h1v1h-1zM330 91h1v1h-1zM331 89h1v2h-1zM332 88h1v1h-1zM333 86h1v2h-1zM334 85h1v1h-1zM335 84h1v1h-1zM336 82h1v2h-1zM337 81h1v1h-1zM338 82h2v1h-2zM340 83h2v1h-2zM342 84h2v1h-2zM344 85h2v1h-2zM346 86h2v1h-2zM348 87h2v1h-2zM350 88h7v1h-7zM357 87h7v1h-7zM364 88h1v2h-1zM365 90h1v1h-1zM366 91h1v2h-1zM367 93h1v1h-1zM368 94h1v2h-1zM369 96h1v1h-1zM370 97h1v1h-1zM371 98h1v2h-1zM372 100h1v1h-1zM373 101h1v2h-1zM374 103h1v1h-1zM375 104h1v2h-1zM376 106h1v1h-1zM377 107h1v2h-1zM378 109h1v2h-1zM379 111h1v1h-1zM380 112h1v2h-1zM381 114h1v1h-1zM382 115h1v2h-1zM383 117h1v2h-1zM384 119h1v1h-1zM385 120h1v2h-1zM386 122h1v1h-1zM387 123h1v2h-1zM388 125h1v2h-1zM389 126h1v2h-1zM390 123h1v3h-1zM391 119h1v4h-1zM392 116h1v3h-1zM393 113h1v3h-1zM394 109h1v4h-1zM395 106h1v3h-1zM396 103h1v3h-1zM397 99h1v4h-1zM398 96h1v3h-1zM399 93h1v3h-1zM400 89h1v4h-1zM401 86h1v3h-1zM402 84h1v2h-1z"/>
<path fill="#5555ff" d="M50 237h1v1h-1zM51 238h2v1h-2zM53 239h2v1h-2zM55 240h1v1h-1zM56 241h2v1h-2zM58 242h1v1h-1zM59 243h2v1h-2zM61 244h2v1h-2zM63 245h1v1h-1zM64 244h2v1h-2zM66 243h2v1h-2zM68 242h1v1h-1zM69 241h2v1h-2zM71 240h1v1h-1zM72 239h2v1h-2zM74 238h2v1h-2zM76 236h1v2h-1zM77 234h1v2h-1zM78 231h1v3h-1zM79 228h1v3h-1zM80 226h1v2h-1zM81 223h1v3h-1zM82 221h1v2h-1zM83 218h1v3h-1zM84 215h1v3h-1zM85 213h1v2h-1zM86 210h1v3h-1zM87 207h1v3h-1zM88 205h1v2h-1zM89 203h1v2h-1zM90 202h1v1h-1zM91 201h1v1h-1zM92 199h1v2h-1zM93 198h1v1h-1zM94 197h1v1h-1zM95 196h1v1h-1zM96 195h1v1h-1zM97 194h1v1h-1zM98 193h1v1h-1zM99 191h1v2h-1zM100 190h1v1h-1zM101 189h1v1h-1zM102 188h1v1h-1zM103 189h1v1h-1zM104 190h1v2h-1zM105 192h1v1h-1zM106 193h1v1h-1zM107 194h1v2h-1zM108 196h1v1h-1zM109 197h1v1h-1zM110 198h1v2h-1zM111 200h1v1h-1zM112 201h1v1h-1zM113 202h1v2h-1zM114 204h1v1h-1zM115 205h1v1h-1zM116 206h1v1h-1zM117 207h1v2h-1zM118 209h1v1h-1zM119 210h1v1h-1zM120 211h1v1h-1zM121 212h1v1h-1zM122 213h1v2h-1zM123 215h1v1h-1zM124 216h1v1h-1zM125 217h1v1h-1zM126 218h1v2h-1zM127 220h1v1h-1zM128 221h1v1h-1zM129 220h1v1h-1zM130 219h2v1h-2zM132 218h1v1h-1zM133 217h1v1h-1zM134 216h2v1h-2zM136 215h1v1h-1zM137 214h1v1h-1zM138 213h2v1h-2zM140 212h1v1h-1zM141 211h1v1h-1zM142 209h1v2h-1zM143 207h1v2h-1zM144 205h1v2h-1zM145 204h1v1h-1zM146 202h1v2h-1zM147 200h1v2h-1zM148 198h1v2h-1zM149 196h1v2h-1zM150 195h1v1h-1zM151 193h1v2h-1zM152 191h1v2h-1zM153 189h1v2h-1zM154 188h1v1h-1zM155 189h1v1h-1zM156 190h1v2h-1zM157 192h1v1h-1zM158 193h1v1h-1zM159 194h1v1h-1zM160 195h1v1h-1zM161 196h1v2h-1zM162 198h1v1h-1zM163 199h1v1h-1zM164 200h1v1h-1zM165 201h1v2h-1zM166 203h1v1h-1zM167 204h1v1h-1zM168 202h1v2h-1zM169 200h1v2h-1zM170 198h1v2h-1zM171 196h1v2h-1zM172 194h1v2h-1zM173 193h1v1h-1zM174 191h1v2h-1zM175 189h1v2h-1zM176 187h1v2h-1zM177 185h1v2h-1zM178 183h1v2h-1zM179 181h1v2h-1zM180 180h15v1h-15zM195 181h2v1h-2zM197 182h2v1h-2zM199 183h1v1h-1zM200 184h2v1h-2zM202 185h1v1h-1zM203 186h2v1h-2zM205 187h2v1h-2zM207 188h14v1h-14zM221 189h2v1h-2zM223 190h2v1h-2zM225 191h2v1h-2zM227 192h2v1h-2zM229 193h2v1h-2zM231 194h2v1h-2zM233 195h1v1h-1zM234 196h2v1h-2zM236 197h1v1h-1zM237 198h2v1h-2zM239 199h1v1h-1zM240 200h1v1h-1zM241 201h2v1h-2zM243 202h1v1h-1zM244 203h2v1h-2zM246 204h14v1h-14zM260 203h1v1h-1zM261 202h1v1h-1zM262 200h1v2h-1zM263 199h1v1h-1zM264 198h1v1h-1zM265 197h1v1h-1zM266 196h1v1h-1zM267 195h1v1h-1zM268 194h1v1h-1zM269 192h1v2h-1zM270 191h1v1h-1zM271 190h1v1h-1zM272 189h7v1h-7zM279 188h7v1h-7zM286 187h2v1h-2zM288 186h2v1h-2zM290 185h1v1h-1zM291 184h2v1h-2zM293 183h1v1h-1zM294 182h2v1h-2zM296 181h2v1h-2zM298 180h1v1h-1zM299 178h1v2h-1zM300 176h1v2h-1zM301 174h1v2h-1zM302 172h1v2h-1zM303 170h1v2h-1zM304 168h1v2h-1zM305 166h1v2h-1zM306 164h1v2h-1zM307 162h1v2h-1zM308 160h1v2h-1zM309 158h1v2h-1zM310 156h1v2h-1zM311 155h1v1h-1zM312 156h1v1h-1zM313 157h1v1h-1zM314 158h1v2h-1zM315 160h1v1h-1zM316 161h1v1h-1zM317 162h1v1h-1zM318 163h1v1h-1zM319 164h1v1h-1zM320 165h1v1h-1zM321 166h1v2h-1zM322 168h1v1h-1zM323 169h1v1h-1zM324 170h1v1h-1zM325 171h1v2h-1zM326 173h1v2h-1zM327 175h1v2h-1zM328 177h1v2h-1zM329 179h1v2h-1zM330 181h1v2h-1zM331 183h1v2h-1zM332 185h1v2h-1zM333 187h1v2h-1zM334 189h1v2h-1zM335 191h1v2h-1zM336 193h1v2h-1zM337 195h1v2h-1zM338 192h1v3h-1zM339 188h1v4h-1zM340 185h1v3h-1zM341 182h1v3h-1zM342 178h1v4h-1zM343 175h1v3h-1zM344 172h1v3h-1zM345 168h1v4h-1zM346 165h1v3h-1zM347 162h1v3h-1zM348 158h1v4h-1zM349 155h1v3h-1zM350 153h1v2h-1zM351 152h1v1h-1zM352 151h1v1h-1zM353 150h1v1h-1zM354 149h1v1h-1zM355 148h1v1h-1zM356 147h1v1h-1zM357 146h1v1h-1zM358 145h1v1h-1zM359 144h1v1h-1zM360 143h1v1h-1zM361 142h1v1h-1zM362 141h1v1h-1zM363 140h1v1h-1zM364 141h1v2h-1zM365 143h1v1h-1zM366 144h1v1h-1zM367 145h1v2h-1zM368 147h1v1h-1zM369 148h1v1h-1zM370 149h1v2h-1zM371 151h1v1h-1zM372 152h1v2h-1zM373 154h1v1h-1zM374 155h1v1h-1zM375 156h1v2h-1zM376 158h1v1h-1zM377 159h1v1h-1zM378 160h1v1h-1zM379 161h1v1h-1zM380 162h1v1h-1zM381 163h1v1h-1zM382 164h1v1h-1zM383 165h1v2h-1zM384 167h1v1h-1zM385 168h1v1h-1zM386 169h1v1h-1zM387 170h1v1h-1zM388 171h1v1h-1zM389 172h1v1h-1zM390 173h1v1h-1zM391 174h1v2h-1zM392 176h1v1h-1zM393 177h1v1h-1zM394 178h1v2h-1zM395 180h1v1h-1zM396 181h1v1h-1zM397 182h1v2h-1zM398 184h1v1h-1zM399 185h1v1h-1zM400 186h1v2h-1zM401 188h1v1h-1zM402 189h1v1h-1z"/>
<path fill="#0000aa" d="M50 216h1v2h-1zM51 218h1v2h-1zM52 220h1v2h-1zM53 222h1v3h-1zM54 225h1v2h-1zM55 227h1v3h-1zM56 230h1v2h-1zM57 232h1v2h-1zM58 234h1v3h-1zM59 237h1v2h-1zM60 239h1v3h-1zM61 242h1v2h-1zM62 244h1v2h-1zM63 246h1v2h-1zM64 247h6v1h-6zM70 248h7v1h-7zM76 247h1v1h-1zM77 243h1v4h-1zM78 240h1v3h-1zM79 236h1v4h-1zM80 233h1v3h-1zM81 229h1v4h-1zM82 226h1v3h-1zM83 223h1v3h-1zM84 219h1v4h-1zM85 216h1v3h-1zM86 212h1v4h-1zM87 209h1v3h-1zM88 205h1v4h-1zM89 203h1v2h-1zM90 202h1v1h-1zM91 200h1v2h-1zM92 199h1v1h-1zM93 198h1v1h-1zM94 196h1v2h-1zM95 195h1v1h-1zM96 194h1v1h-1zM97 192h1v2h-1zM98 191h1v1h-1zM99 190h1v1h-1zM100 188h1v2h-1zM101 187h1v1h-1zM102 186h1v1h-1zM103 187h1v2h-1zM104 189h1v1h-1zM105 190h1v2h-1zM106 192h1v1h-1zM107 193h1v2h-1zM108 195h1v1h-1zM109 196h1v1h-1zM110 197h1v2h-1zM111 199h1v1h-1zM112 200h1v2h-1zM113 202h1v1h-1zM114 203h1v2h-1zM115 205h1v1h-1zM116 206h1v1h-1zM117 207h1v2h-1zM118 209h1v1h-1zM119 210h1v1h-1zM120 211h1v1h-1zM121 212h1v1h-1zM122 213h1v2h-1zM123 215h1v1h-1zM124 216h1v1h-1zM125 217h1v1h-1zM126 218h1v2h-1zM127 220h1v1h-1zM128 221h1v1h-1zM129 220h2v1h-2zM131 219h1v1h-1zM132 218h2v1h-2zM134 217h1v1h-1zM135 216h1v1h-1zM136 215h2v1h-2zM138 214h1v1h-1zM139 213h2v1h-2zM141 212h1v1h-1zM142 210h1v2h-1zM143 208h1v2h-1zM144 206h1v2h-1zM145 204h1v2h-1zM146 202h1v2h-1zM147 200h1v2h-1zM148 198h1v2h-1zM149 196h1v2h-1zM150 194h1v2h-1zM151 192h1v2h-1zM152 190h1v2h-1zM153 188h1v2h-1zM154 186h1v2h-1zM155 187h1v2h-1zM156 189h1v1h-1zM157 190h1v1h-1zM158 191h1v2h-1zM159 193h1v1h-1zM160 194h1v1h-1zM161 195h1v2h-1zM162 197h1v1h-1zM163 198h1v2h-1zM164 200h1v1h-1zM165 201h1v1h-1zM166 202h1v2h-1zM167 203h1v2h-1zM168 201h1v2h-1zM169 199h1v2h-1zM170 197h1v2h-1zM171 195h1v2h-1zM172 193h1v2h-1zM173 191h1v2h-1zM174 188h1v3h-1zM175 186h1v2h-1zM176 184h1v2h-1zM177 182h1v2h-1zM178 180h1v2h-1zM179 178h1v2h-1zM180 176h2v1h-2zM180 177h1v1h-1zM182 175h4v1h-4zM186 174h3v1h-3zM189 173h4v1h-4zM193 172h4v1h-4zM197 173h4v1h-4zM201 174h4v1h-4zM205 175h6v1h-6zM211 176h6v1h-6zM217 177h4v1h-4zM221 178h1v1h-1zM222 179h1v1h-1zM223 180h1v1h-1zM224 181h1v1h-1zM225 182h1v1h-1zM226 183h1v1h-1zM227 184h1v1h-1zM228 185h1v1h-1zM229 186h1v1h-1zM230 187h1v1h-1zM231 188h1v1h-1zM232 189h1v1h-1zM233 190h1v1h-1zM234 191h1v2h-1zM235 193h1v1h-1zM236 194h1v2h-1zM237 196h1v1h-1zM238 197h1v2h-1zM239 199h1v1h-1zM240 200h1v2h-1zM241 202h1v2h-1zM242 204h1v1h-1zM243 205h1v2h-1zM244 207h1v1h-1zM245 208h1v2h-1zM246 210h14v1h-14zM259 209h1v1h-1zM260 207h1v2h-1zM261 205h1v2h-1zM262 202h1v3h-1zM263 200h1v2h-1zM264 197h1v3h-1zM265 195h1v2h-1zM266 193h1v2h-1zM267 190h1v3h-1zM268 188h1v2h-1zM269 185h1v3h-1zM270 183h1v2h-1zM271 181h1v2h-1zM272 179h3v1h-3zM272 180h1v1h-1zM275 178h4v1h-4zM279 177h4v1h-4zM283 176h3v1h-3zM286 175h2v1h-2zM288 174h2v1h-2zM290 173h1v1h-1zM291 172h2v1h-2zM293 171h1v1h-1zM294 170h2v1h-2zM296 169h2v1h-2zM298 168h1v1h-1zM299 166h1v2h-1zM300 165h1v1h-1zM301 163h1v2h-1zM302 162h1v1h-1zM303 160h1v2h-1zM304 159h1v1h-1zM305 157h1v2h-1zM306 155h1v2h-1zM307 154h1v1h-1zM308 152h1v2h-1zM309 151h1v1h-1zM310 149h1v2h-1zM311 148h2v1h-2zM313 149h2v1h-2zM315 150h2v1h-2zM317 151h2v1h-2zM319 152h2v1h-2zM321 153h2v1h-2zM323 154h2v1h-2zM324 155h1v1h-1zM325 156h1v4h-1zM326 160h1v4h-1zM327 164h1v3h-1zM328 167h1v4h-1zM329 171h1v4h-1zM330 175h1v3h-1zM331 178h1v4h-1zM332 182h1v4h-1zM333 186h1v4h-1zM334 190h1v3h-1zM335 193h1v4h-1zM336 197h1v4h-1zM337 200h1v3h-1zM338 196h1v4h-1zM339 191h1v5h-1zM340 187h1v4h-1zM341 182h1v5h-1zM342 178h1v4h-1zM343 174h1v4h-1zM344 169h1v5h-1zM345 165h1v4h-1zM346 160h1v5h-1zM347 156h1v4h-1zM348 151h1v5h-1zM349 147h1v4h-1zM350 144h1v3h-1zM351 143h1v1h-1zM352 142h2v1h-2zM354 141h1v1h-1zM355 140h1v1h-1zM356 139h2v1h-2zM358 138h1v1h-1zM359 137h1v1h-1zM360 136h2v1h-2zM362 135h1v1h-1zM363 134h1v1h-1zM364 135h1v2h-1zM365 137h1v2h-1zM366 139h1v2h-1zM367 141h1v2h-1zM368 143h1v2h-1zM369 145h1v2h-1zM370 147h1v2h-1zM371 149h1v2h-1zM372 151h1v2h-1zM373 153h1v2h-1zM374 155h1v2h-1zM375 157h1v2h-1zM376 159h7v1h-7zM383 160h7v1h-7zM389 161h1v1h-1zM390 162h1v2h-1zM391 164h1v2h-1zM392 166h1v2h-1zM393 168h1v3h-1zM394 171h1v2h-1zM395 173h1v2h-1zM396 175h1v2h-1zM397 177h1v2h-1zM398 179h1v3h-1zM399 182h1v2h-1zM400 184h1v2h-1zM401 186h1v2h-1zM402 188h1v2h-1z"/>
</g>
<g fill="#00aaaa"><use href="#a54" x="133" y="19"/><use href="#a65" x="141" y="19"/><use href="#a6d" x="149" y="19"/><use href="#a70" x="157" y="19"/><use href="#a65" x="165" y="19"/><use href="#a72" x="173" y="19"/><use href="#a61" x="181" y="19"/><use href="#a74" x="189" y="19"/><use href="#a75" x="197" y="19"/><use href="#a72" x="205" y="19"/><use href="#a65" x="213" y="19"/><use href="#a6e" x="221" y="19"/><use href="#a75" x="237" y="19"/><use href="#a6e" x="245" y="19"/><use href="#a64" x="253" y="19"/><use href="#a4e" x="269" y="19"/><use href="#a69" x="277" y="19"/><use href="#a65" x="285" y="19"/><use href="#a64" x="293" y="19"/><use href="#a65" x="301" y="19"/><use href="#a72" x="309" y="19"/><use href="#a73" x="317" y="19"/><use href="#a63" x="325" y="19"/><use href="#a68" x="333" y="19"/><use href="#a6c" x="341" y="19"/><use href="#ae4" x="349" y="19"/><use href="#a67" x="357" y="19"/><use href="#a65" x="365" y="19"/><use href="#a66" x="381" y="19"/><use href="#afc" x="389" y="19"/><use href="#a72" x="397" y="19"/><use href="#a46" x="413" y="19"/><use href="#a65" x="421" y="19"/><use href="#a62" x="429" y="19"/><use href="#a72" x="437" y="19"/><use href="#a75" x="445" y="19"/><use href="#a61" x="453" y="19"/><use href="#a72" x="461" y="19"/><use href="#a31" x="477" y="19"/><use href="#a39" x="485" y="19"/><use href="#a39" x="493" y="19"/><use href="#a37" x="501" y="19"/></g>
<text class="t" x="133" y="26" textLength="376">Temperaturen und Niederschläge für Februar 1997</text>
<g fill="#aa5500"><use href="#a4c" x="445" y="41"/><use href="#a45" x="453" y="41"/><use href="#a47" x="461" y="41"/><use href="#a45" x="469" y="41"/><use href="#a4e" x="477" y="41"/><use href="#a44" x="485" y="41"/><use href="#a45" x="493" y="41"/><use href="#a3a" x="501" y="41"/></g>
<text class="t" x="445" y="48" textLength="64">LEGENDE:</text>
<rect x="445" y="75" width="21" height="1" fill="#00aa00"/>
<g fill="#aaaaaa"><use href="#a54" x="470" y="71"/><use href="#a6d" x="478" y="71"/><use href="#a61" x="486" y="71"/><use href="#a78" x="494" y="71"/><use href="#a2d" x="502" y="71"/><use href="#a57" x="510" y="71"/><use href="#a65" x="518" y="71"/><use href="#a74" x="526" y="71"/><use href="#a74" x="534" y="71"/><use href="#a65" x="542" y="71"/><use href="#a72" x="550" y="71"/><use href="#a77" x="558" y="71"/><use href="#a61" x="566" y="71"/><use href="#a72" x="574" y="71"/><use href="#a74" x="582" y="71"/><use href="#a65" x="590" y="71"/></g>
<text class="t" x="470" y="78" textLength="128">Tmax-Wetterwarte</text>
<rect x="445" y="95" width="21" height="1" fill="#55ff55"/>
<g fill="#aaaaaa"><use href="#a54" x="470" y="91"/><use href="#a6d" x="478" y="91"/><use href="#a61" x="486" y="91"/><use href="#a78" x="494" y="91"/><use href="#a2d" x="502" y="91"/><use href="#a65" x="510" y="91"/><use href="#a69" x="518" y="91"/><use href="#a67" x="526" y="91"/><use href="#a65" x="534" y="91"/><use href="#a6e" x="542" y="91"/><use href="#a65" x="550" y="91"/><use href="#a4d" x="566" y="91"/><use href="#a65" x="574" y="91"/><use href="#a73" x="582" y="91"/><use href="#a73" x="590" y="91"/><use href="#a75" x="598" y="91"/><use href="#a6e" x="606" y="91"/><use href="#a67" x="614" y="91"/></g>
<text class="t" x="470" y="98" textLength="152">Tmax-eigene Messung</text>
<rect x="445" y="115" width="21" height="1" fill="#ff55ff"/>
<g fill="#aaaaaa"><use href="#a54" x="470" y="111"/><use href="#a4d" x="486" y="111"/><use href="#a57" x="494" y="111"/><use href="#a2d" x="502" y="111"/><use href="#a57" x="510" y="111"/><use href="#a65" x="518" y="111"/><use href="#a74" x="526" y="111"/><use href="#a74" x="534" y="111"/><use href="#a65" x="542" y="111"/><use href="#a72" x="550" y="111"/><use href="#a77" x="558" y="111"/><use href="#a61" x="566" y="111"/><use href="#a72" x="574" y="111"/><use href="#a74" x="582" y="111"/><use href="#a65" x="590" y="111"/></g>
<text class="t" x="470" y="118" textLength="128">T MW-Wetterwarte</text>
<rect x="445" y="135" width="21" height="1" fill="#0000aa"/>
<g fill="#aaaaaa"><use href="#a54" x="470" y="131"/><use href="#a6d" x="478" y="131"/><use href="#a69" x="486" y="131"/><use href="#a6e" x="494" y="131"/><use href="#a2d" x="502" y="131"/><use href="#a57" x="510" y="131"/><use href="#a65" x="518" y="131"/><use href="#a74" x="526" y="131"/><use href="#a74" x="534" y="131"/><use href="#a65" x="542" y="131"/><use href="#a72" x="550" y="131"/><use href="#a77" x="558" y="131"/><use href="#a61" x="566" y="131"/><use href="#a72" x="574" y="131"/><use href="#a74" x="582" y="131"/><use href="#a65" x="590" y="131"/></g>
<text class="t" x="470" y="138" textLength="128">Tmin-Wetterwarte</text>
<rect x="445" y="155" width="21" height="1" fill="#5555ff"/>
<g fill="#aaaaaa"><use href="#a54" x="470" y="151"/><use href="#a6d" x="478" y="151"/><use href="#a69" x="486" y="151"/><use href="#a6e" x="494" y="151"/><use href="#a2d" x="502" y="151"/><use href="#a65" x="510" y="151"/><use href="#a69" x="518" y="151"/><use href="#a67" x="526" y="151"/><use href="#a65" x="534" y="151"/><use href="#a6e" x="542" y="151"/><use href="#a65" x="550" y="151"/><use href="#a4d" x="566" y="151"/><use href="#a65" x="574" y="151"/><use href="#a73" x="582" y="151"/><use href="#a73" x="590" y="151"/><use href="#a75" x="598" y="151"/><use href="#a6e" x="606" y="151"/><use href="#a67" x="614" y="151"/></g>
<text class="t" x="470" y="158" textLength="152">Tmin-eigene Messung</text>
<rect x="453" y="178" width="9" height="13" fill="#555555"/>
<g fill="#aaaaaa"><use href="#a4e" x="470" y="181"/><use href="#a2d" x="486" y="181"/><use href="#a57" x="502" y="181"/><use href="#a65" x="510" y="181"/><use href="#a74" x="518" y="181"/><use href="#a74" x="526" y="181"/><use href="#a65" x="534" y="181"/><use href="#a72" x="542" y="181"/><use href="#a77" x="550" y="181"/><use href="#a61" x="558" y="181"/><use href="#a72" x="566" y="181"/><use href="#a74" x="574" y="181"/><use href="#a65" x="582" y="181"/></g>
<text class="t" x="470" y="188" textLength="120">N - Wetterwarte</text>
<rect x="453" y="198" width="9" height="13" fill="#aaaaaa"/>
<g fill="#aaaaaa"><use href="#a4e" x="470" y="201"/><use href="#a2d" x="486" y="201"/><use href="#a65" x="502" y="201"/><use href="#a69" x="510" y="201"/><use href="#a67" x="518" y="201"/><use href="#a65" x="526" y="201"/><use href="#a6e" x="534" y="201"/><use href="#a65" x="542" y="201"/><use href="#a4d" x="558" y="201"/><use href="#a65" x="566" y="201"/><use href="#a73" x="574" y="201"/><use href="#a73" x="582" y="201"/><use href="#a75" x="590" y="201"/><use href="#a6e" x="598" y="201"/><use href="#a67" x="606" y="201"/></g>
<text class="t" x="470" y="208" textLength="144">N - eigene Messung</text>
<g fill="#5555ff"><use href="#a31" x="470" y="266"/><use href="#a39" x="478" y="266"/><use href="#a39" x="486" y="266"/><use href="#a37" x="494" y="266"/></g>
<text class="t" x="470" y="273" textLength="32">1997</text>
<g fill="#5555ff"><use href="#a46" x="530" y="266"/><use href="#a65" x="538" y="266"/><use href="#a62" x="546" y="266"/><use href="#a72" x="554" y="266"/><use href="#a75" x="562" y="266"/><use href="#a61" x="570" y="266"/><use href="#a72" x="578" y="266"/></g>
<text class="t" x="530" y="273" textLength="56">Februar</text>
<g fill="#ff55ff"><use href="#a4d" x="454" y="301"/><use href="#a69" x="462" y="301"/><use href="#a74" x="470" y="301"/><use href="#a74" x="478" y="301"/><use href="#a65" x="486" y="301"/><use href="#a6c" x="494" y="301"/><use href="#a74" x="502" y="301"/><use href="#a65" x="510" y="301"/><use href="#a6d" x="518" y="301"/><use href="#a70" x="526" y="301"/><use href="#a2e" x="534" y="301"/></g>
<text class="t" x="454" y="308" textLength="88">Mitteltemp.</text>
<g fill="#ff55ff"><use href="#a34" x="573" y="301"/><use href="#a2e" x="581" y="301"/><use href="#a31" x="589" y="301"/><use href="#ab0" x="605" y="301"/><use href="#a43" x="613" y="301"/></g>
<text class="t" x="573" y="308" textLength="48">4.1 °C</text>
<rect x="453" y="318" width="9" height="13" fill="#555555"/>
<g fill="#aaaaaa"><use href="#a4e" x="470" y="321"/><use href="#a2d" x="486" y="321"/><use href="#a53" x="502" y="321"/><use href="#a75" x="510" y="321"/><use href="#a6d" x="518" y="321"/><use href="#a6d" x="526" y="321"/><use href="#a65" x="534" y="321"/><use href="#a3a" x="542" y="321"/></g>
<text class="t" x="470" y="328" textLength="80">N - Summe:</text>
<g fill="#aaaaaa"><use href="#a36" x="565" y="321"/><use href="#a37" x="573" y="321"/><use href="#a2e" x="581" y="321"/><use href="#a38" x="589" y="321"/><use href="#a6d" x="605" y="321"/><use href="#a6d" x="613" y="321"/></g>
<text class="t" x="565" y="328" textLength="56">67.8 mm</text>
<rect x="453" y="338" width="9" height="13" fill="#aaaaaa"/>
<g fill="#aaaaaa"><use href="#a4e" x="470" y="341"/><use href="#a2d" x="486" y="341"/><use href="#a53" x="502" y="341"/><use href="#a75" x="510" y="341"/><use href="#a6d" x="518" y="341"/><use href="#a6d" x="526" y="341"/><use href="#a65" x="534" y="341"/><use href="#a3a" x="542" y="341"/></g>
<text class="t" x="470" y="348" textLength="80">N - Summe:</text>
<g fill="#aaaaaa"><use href="#a35" x="565" y="341"/><use href="#a38" x="573" y="341"/><use href="#a6d" x="605" y="341"/><use href="#a6d" x="613" y="341"/></g>
<text class="t" x="565" y="348" textLength="56">58   mm</text>
<g fill="#55ffff"><use href="#a2191" x="450" y="366"/><use href="#a65" x="522" y="366"/><use href="#a72" x="530" y="366"/><use href="#a68" x="538" y="366"/><use href="#af6" x="546" y="366"/><use href="#a68" x="554" y="366"/><use href="#a65" x="562" y="366"/><use href="#a6e" x="570" y="366"/></g>
<text class="t" x="450" y="373" textLength="128">↑        erhöhen</text>
<g fill="#55ffff"><use href="#a2193" x="450" y="386"/><use href="#a65" x="522" y="386"/><use href="#a72" x="530" y="386"/><use href="#a6e" x="538" y="386"/><use href="#a69" x="546" y="386"/><use href="#a65" x="554" y="386"/><use href="#a64" x="562" y="386"/><use href="#a72" x="570" y="386"/><use href="#a69" x="578" y="386"/><use href="#a67" x="586" y="386"/><use href="#a65" x="594" y="386"/><use href="#a6e" x="602" y="386"/></g>
<text class="t" x="450" y="393" textLength="160">↓        erniedrigen</text>
<g fill="#55ffff"><use href="#a3c" x="450" y="406"/><use href="#a52" x="458" y="406"/><use href="#a65" x="466" y="406"/><use href="#a74" x="474" y="406"/><use href="#a75" x="482" y="406"/><use href="#a72" x="490" y="406"/><use href="#a6e" x="498" y="406"/><use href="#a3e" x="506" y="406"/><use href="#a62" x="522" y="406"/><use href="#a65" x="530" y="406"/><use href="#a73" x="538" y="406"/><use href="#a74" x="546" y="406"/><use href="#ae4" x="554" y="406"/><use href="#a74" x="562" y="406"/><use href="#a69" x="570" y="406"/><use href="#a67" x="578" y="406"/><use href="#a65" x="586" y="406"/><use href="#a6e" x="594" y="406"/></g>
<text class="t" x="450" y="413" textLength="152">&lt;Return&gt; bestätigen</text>
<g fill="#55ffff"><use href="#a3c" x="450" y="426"/><use href="#a45" x="458" y="426"/><use href="#a73" x="466" y="426"/><use href="#a63" x="474" y="426"/><use href="#a3e" x="482" y="426"/><use href="#a50" x="522" y="426"/><use href="#a72" x="530" y="426"/><use href="#a6f" x="538" y="426"/><use href="#a67" x="546" y="426"/><use href="#a72" x="554" y="426"/><use href="#a61" x="562" y="426"/><use href="#a6d" x="570" y="426"/><use href="#a6d" x="578" y="426"/><use href="#a65" x="586" y="426"/><use href="#a6e" x="594" y="426"/><use href="#a64" x="602" y="426"/><use href="#a65" x="610" y="426"/></g>
<text class="t" x="450" y="433" textLength="168">&lt;Esc&gt;    Programmende</text>
<g fill="#ff5555"><use href="#b32" x="18" y="34"/><use href="#b30" x="24" y="34"/></g>
<text class="u" x="18" y="41" textLength="12">20</text>
<g fill="#ff5555"><use href="#b31" x="18" y="75"/><use href="#b35" x="24" y="75"/></g>
<text class="u" x="18" y="82" textLength="12">15</text>
<g fill="#ff5555"><use href="#b31" x="18" y="116"/><use href="#b30" x="24" y="116"/></g>
<text class="u" x="18" y="123" textLength="12">10</text>
<g fill="#ff5555"><use href="#b35" x="24" y="157"/></g>
<text class="u" x="24" y="164" textLength="6">5</text>
<g fill="#ff5555"><use href="#b30" x="24" y="198"/></g>
<text class="u" x="24" y="205" textLength="6">0</text>
<g fill="#ff5555"><use href="#b2d" x="18" y="239"/><use href="#b35" x="24" y="239"/></g>
<text class="u" x="18" y="246" textLength="12">-5</text>
<g fill="#ff5555"><use href="#b2d" x="12" y="280"/><use href="#b31" x="18" y="280"/><use href="#b30" x="24" y="280"/></g>
<text class="u" x="12" y="287" textLength="18">-10</text>
<g fill="#ff5555"><use href="#b2d" x="12" y="321"/><use href="#b31" x="18" y="321"/><use href="#b35" x="24" y="321"/></g>
<text class="u" x="12" y="328" textLength="18">-15</text>
<g fill="#ff5555"><use href="#b2d" x="12" y="362"/><use href="#b32" x="18" y="362"/><use href="#b30" x="24" y="362"/></g>
<text class="u" x="12" y="369" textLength="18">-20</text>
<g fill="#ff5555"><use href="#b2d" x="12" y="403"/><use href="#b32" x="18" y="403"/><use href="#b35" x="24" y="403"/></g>
<text class="u" x="12" y="410" textLength="18">-25</text>
<g fill="#ff5555"><use href="#b2d" x="12" y="444"/><use href="#b33" x="18" y="444"/><use href="#b30" x="24" y="444"/></g>
<text class="u" x="12" y="451" textLength="18">-30</text>
<g fill="#00aaaa"><use href="#b35" x="18" y="102"/><use href="#b30" x="24" y="102"/></g>
<text class="u" x="18" y="109" textLength="12">50</text>
<g fill="#00aaaa"><use href="#b34" x="18" y="171"/><use href="#b30" x="24" y="171"/></g>
<text class="u" x="18" y="178" textLength="12">40</text>
<g fill="#00aaaa"><use href="#b32" x="18" y="307"/><use href="#b30" x="24" y="307"/></g>
<text class="u" x="18" y="314" textLength="12">20</text>
<g fill="#00aaaa"><use href="#b31" x="18" y="376"/><use href="#b30" x="24" y="376"/></g>
<text class="u" x="18" y="383" textLength="12">10</text>
<g fill="#ff5555"><use href="#b32" x="61" y="454"/></g>
<text class="u" x="61" y="461" textLength="6">2</text>
<g fill="#ff5555"><use href="#b34" x="87" y="454"/></g>
<text class="u" x="87" y="461" textLength="6">4</text>
<g fill="#ff5555"><use href="#b36" x="113" y="454"/></g>
<text class="u" x="113" y="461" textLength="6">6</text>
<g fill="#ff5555"><use href="#b38" x="139" y="454"/></g>
<text class="u" x="139" y="461" textLength="6">8</text>
<g fill="#ff5555"><use href="#b31" x="162" y="454"/><use href="#b30" x="168" y="454"/></g>
<text class="u" x="162" y="461" textLength="12">10</text>
<g fill="#ff5555"><use href="#b31" x="189" y="454"/><use href="#b32" x="195" y="454"/></g>
<text class="u" x="189" y="461" textLength="12">12</text>
<g fill="#ff5555"><use href="#b31" x="215" y="454"/><use href="#b34" x="221" y="454"/></g>
<text class="u" x="215" y="461" textLength="12">14</text>
<g fill="#ff5555"><use href="#b31" x="241" y="454"/><use href="#b36" x="247" y="454"/></g>
<text class="u" x="241" y="461" textLength="12">16</text>
<g fill="#ff5555"><use href="#b31" x="267" y="454"/><use href="#b38" x="273" y="454"/></g>
<text class="u" x="267" y="461" textLength="12">18</text>
<g fill="#ff5555"><use href="#b32" x="293" y="454"/><use href="#b30" x="299" y="454"/></g>
<text class="u" x="293" y="461" textLength="12">20</text>
<g fill="#ff5555"><use href="#b32" x="319" y="454"/><use href="#b32" x="325" y="454"/></g>
<text class="u" x="319" y="461" textLength="12">22</text>
<g fill="#ff5555"><use href="#b32" x="345" y="454"/><use href="#b34" x="351" y="454"/></g>
<text class="u" x="345" y="461" textLength="12">24</text>
<g fill="#ff5555"><use href="#b32" x="371" y="454"/><use href="#b36" x="377" y="454"/></g>
<text class="u" x="371" y="461" textLength="12">26</text>
<g fill="#ff5555"><use href="#b32" x="397" y="454"/><use href="#b38" x="403" y="454"/></g>
<text class="u" x="397" y="461" textLength="12">28</text>
<g fill="#ff5555"><use href="#b54" x="602" y="463"/><use href="#b61" x="608" y="463"/><use href="#b67" x="614" y="463"/></g>
<text class="u" x="602" y="470" textLength="18">Tag</text>
<g fill="#ff5555"><rect x="4" y="29" width="1" height="1"/><rect x="8" y="29" width="1" height="1"/><rect x="3" y="30" width="1" height="1"/><rect x="9" y="30" width="1" height="1"/><rect x="3" y="31" width="1" height="1"/><rect x="9" y="31" width="1" height="1"/><rect x="3" y="32" width="1" height="1"/><rect x="9" y="32" width="1" height="1"/><rect x="4" y="33" width="5" height="1"/><rect x="4" y="35" width="2" height="1"/><rect x="3" y="36" width="1" height="1"/><rect x="6" y="36" width="1" height="1"/><rect x="3" y="37" width="1" height="1"/><rect x="6" y="37" width="1" height="1"/><rect x="4" y="38" width="2" height="1"/></g>
<text class="u" transform="translate(10,40) rotate(-90)">°C</text>
<g fill="#00aaaa"><rect x="6" y="53" width="4" height="1"/><rect x="5" y="54" width="1" height="1"/><rect x="6" y="55" width="4" height="1"/><rect x="5" y="56" width="1" height="1"/><rect x="5" y="57" width="5" height="1"/><rect x="6" y="59" width="4" height="1"/><rect x="5" y="60" width="1" height="1"/><rect x="6" y="61" width="4" height="1"/><rect x="5" y="62" width="1" height="1"/><rect x="5" y="63" width="5" height="1"/></g>
<text class="u" transform="translate(10,65) rotate(-90)">mm</text>
</svg>
</body>
</html>
